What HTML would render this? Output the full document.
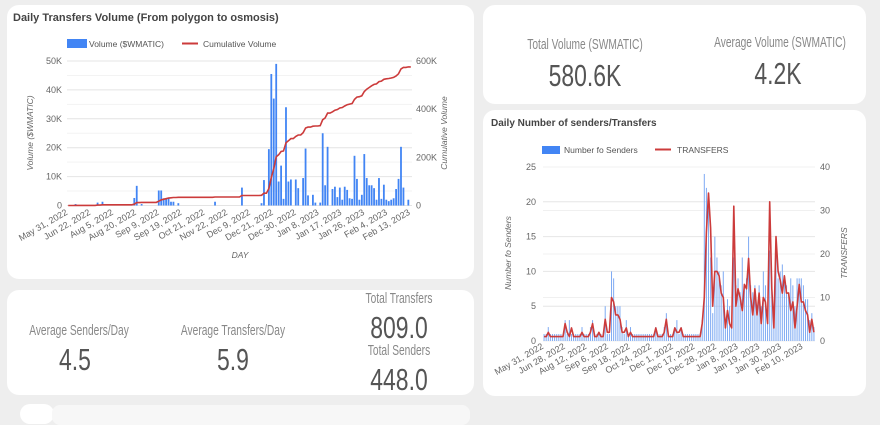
<!DOCTYPE html>
<html><head><meta charset="utf-8">
<style>
body{margin:0;width:880px;height:411px;background:#eeeeee;overflow:hidden;position:relative;font-family:"Liberation Sans",sans-serif}
.card{position:absolute;background:#fff;border-radius:12px}
.k{position:absolute;font-family:"Liberation Sans",sans-serif;text-align:center;white-space:nowrap;transform:translateX(-50%) scaleX(0.68);transform-origin:50% 50%}
.kl{font-size:15px;color:#888}
.kv{font-size:31px;color:#555;transform:translateX(-50%) scaleX(0.74)}
svg{position:absolute;left:0;top:0}
</style></head><body>
<div class="card" style="left:7px;top:5px;width:467px;height:274px"></div>
<div class="card" style="left:7px;top:290px;width:467px;height:105px"></div>
<div class="card" style="left:483px;top:5px;width:383px;height:99px"></div>
<div class="card" style="left:483px;top:110px;width:383px;height:286px"></div>
<div class="card" style="left:20px;top:404px;width:34px;height:20px;border-radius:10px"></div>
<div class="card" style="left:52px;top:405px;width:418px;height:20px;border-radius:8px;background:#f7f7f7"></div>

<div class="k kl" style="left:79px;top:322px">Average Senders/Day</div>
<div class="k kv" style="left:75px;top:342px">4.5</div>
<div class="k kl" style="left:233px;top:322px">Average Transfers/Day</div>
<div class="k kv" style="left:233px;top:342px">5.9</div>
<div class="k kl" style="left:399px;top:290px">Total Transfers</div>
<div class="k kv" style="left:399px;top:310px">809.0</div>
<div class="k kl" style="left:399px;top:342px">Total Senders</div>
<div class="k kv" style="left:399px;top:362px">448.0</div>
<div class="k kl" style="left:585px;top:36px">Total Volume (SWMATIC)</div>
<div class="k kv" style="left:585px;top:58px">580.6K</div>
<div class="k kl" style="left:780px;top:34px">Average Volume (SWMATIC)</div>
<div class="k kv" style="left:778px;top:56px">4.2K</div>

<svg id="s" width="880" height="411"></svg>
<script>
// Chart 1 data
const barDays=[3,12,14,27,28,30,37,38,39,40,41,42,43,45,60,71,79,80,82,83,84,85,86,87,88,89,90,91,93,94,96,97,98,100,101,103,104,105,106,108,109,110,111,112,113,114,115,116,117,118,119,120,121,122,123,124,125,126,127,128,129,130,131,132,133,134,135,136,137,139];
const volumes=[0.5,1,1.3,2.6,6.8,0.5,5.2,5.2,2.5,2.5,2.5,1.3,1.3,0.8,1.3,6.2,0.8,8.8,19.5,45.5,37,49,8.3,13.8,2.3,34,8.3,9,9,6,9.5,19.7,3.5,3.7,1,1,25,7,20.3,5.7,6.5,2.9,6.2,2,6.5,5.4,2.5,2.3,17.2,9.2,2,3.7,17.8,9.5,7,7,6,2,9.5,2.3,7.2,2,1.5,2,2.5,5.7,9.2,20.3,6.2,2];
const dayCount=141;
const xLabels1=["May 31, 2022","Jun 22, 2022","Aug 5, 2022","Aug 20, 2022","Sep 9, 2022","Sep 19, 2022","Oct 21, 2022","Nov 22, 2022","Dec 9, 2022","Dec 21, 2022","Dec 30, 2022","Jan 8, 2023","Jan 17, 2023","Jan 26, 2023","Feb 4, 2023","Feb 13, 2023"];
const yTicks1=[0,10,20,30,40,50];
const yTicks1R=[0,200,400,600];
// Chart 2 data
const transfers=[1,1,2,1,1,1,1,1,1,1,4,2,1,3,1,1,1,1,2,1,1,1,2,4,1,1,2,1,1,5,2,2,10,9,6,6,5,2,2,3,1,2,1,1,1,1,1,1,1,1,1,1,1,3,1,1,1,2,5,1,1,1,3,2,2,3,1,1,1,1,1,1,1,1,1,4,10,25,34,26,8,16,16,15,11,10,3,7,4,3,31,8,12,10,7,13,12,19,10,6,12,6,11,4,10,9,4,32,12,3,24,16,14,11,15,11,11,7,9,3,8,13,9,9,7,6,2,5,2];
const senders=[1,1,2,1,1,1,1,1,1,1,3,1,3,1,1,1,1,1,2,1,1,1,2,3,1,1,1,1,1,5,1,1,10,9,5,5,5,2,1,3,1,2,1,1,1,1,1,1,1,1,1,1,1,2,1,1,1,2,4,1,1,1,2,3,1,2,1,1,1,1,1,1,1,1,1,3,24,22,20,12,4,15,12,10,8,10,2,6,5,3,12,8,9,7,12,8,9,15,8,7,8,5,8,5,10,8,4,13,7,5,14,9,10,11,9,8,7,9,8,5,9,9,9,8,6,6,3,4,2];
const xLabels2=["May 31, 2022","Jun 28, 2022","Aug 12, 2022","Sep 6, 2022","Sep 18, 2022","Oct 24, 2022","Dec 1, 2022","Dec 17, 2022","Dec 28, 2022","Jan 8, 2023","Jan 19, 2023","Jan 30, 2023","Feb 10, 2023"];
const yTicks2=[0,5,10,15,20,25];
const yTicks2R=[0,10,20,30,40];

const S=document.getElementById('s');const NS='http://www.w3.org/2000/svg';
function mk(t,a,txt){const e=document.createElementNS(NS,t);for(const k in a)e.setAttribute(k,a[k]);if(txt!==undefined)e.textContent=txt;S.appendChild(e);return e;}

// ---------- chart 1
const L1=67,R1=412,T1=61,B1=205.5;
const x1=d=>L1+(d+0.5)*(R1-L1)/dayCount;
const y1=v=>B1-v/50*(B1-T1);
const y1r=v=>B1-v/600*(B1-T1);
let e;
e=mk('text',{x:13,y:21,'font-size':11,'font-weight':'bold',fill:'#444'},'Daily Transfers Volume (From polygon to osmosis)');


for(let v=0;v<=50;v+=5){e=mk('line',{x1:L1,x2:R1,y1:y1(v),y2:y1(v),stroke:v%10?'#f3f3f3':'#e4e4e4','stroke-width':1});

}
yTicks1.forEach(v=>{e=mk('text',{x:62,y:y1(v)+3,'font-size':9,fill:'#666','text-anchor':'end'},v?v+'K':'0');

});
yTicks1R.forEach(v=>{e=mk('text',{x:416,y:y1r(v)+3,'font-size':9,fill:'#666'},v?v+'K':'0');

});
barDays.forEach((d,i)=>{const bw=1.8;e=mk('rect',{x:x1(d)-bw/2,y:y1(volumes[i]),width:bw,height:B1-y1(volumes[i]),fill:'#4285f4'});

});
const daily=new Array(dayCount).fill(0);barDays.forEach((d,i)=>daily[d]+=volumes[i]);
let c=0,pts=[];daily.forEach((v,d)=>{c+=v;pts.push(x1(d).toFixed(1)+','+y1r(c).toFixed(1));});
e=mk('polyline',{points:pts.join(' '),fill:'none',stroke:'#cc3b3b','stroke-width':1.6});


xLabels1.forEach((t,i)=>{const d=i*(dayCount-1)/(xLabels1.length-1);const xx=x1(d);
e=mk('text',{x:xx,y:214,'font-size':9,fill:'#666','text-anchor':'end',transform:`rotate(-30 ${xx} 214)`},t);

});
e=mk('text',{x:240,y:258,'font-size':8.5,fill:'#666','font-style':'italic','text-anchor':'middle'},'DAY');


e=mk('text',{x:33,y:133,'font-size':8.5,fill:'#666','font-style':'italic','text-anchor':'middle',transform:'rotate(-90 33 133)'},'Volume ($WMATIC)');


e=mk('text',{x:447,y:133,'font-size':8.5,fill:'#666','font-style':'italic','text-anchor':'middle',transform:'rotate(-90 447 133)'},'Cumulative Volume');


e=mk('rect',{x:67,y:39,width:20,height:9,fill:'#4285f4'});


e=mk('text',{x:89,y:47,'font-size':8.5,fill:'#555'},'Volume ($WMATIC)');


e=mk('line',{x1:182,x2:198,y1:43.5,y2:43.5,stroke:'#cc3b3b','stroke-width':2});


e=mk('text',{x:203,y:47,'font-size':8.5,fill:'#555'},'Cumulative Volume');



// ---------- chart 2
const L2=543,R2=815,T2=167,B2=341,N2=transfers.length;
const x2=i=>L2+(i+0.5)*(R2-L2)/N2;
const y2=v=>B2-v/25*(B2-T2);
const y2r=v=>B2-v/40*(B2-T2);
e=mk('text',{x:491,y:126,'font-size':10,'font-weight':'bold',fill:'#444'},'Daily Number of senders/Transfers');


yTicks2.forEach(v=>{e=mk('line',{x1:L2,x2:R2,y1:y2(v),y2:y2(v),stroke:'#e6e6e6','stroke-width':1});


e=mk('text',{x:536,y:y2(v)+3,'font-size':9,fill:'#666','text-anchor':'end'},String(v));

});
yTicks2R.forEach(v=>{e=mk('line',{x1:L2,x2:R2,y1:y2r(v),y2:y2r(v),stroke:'#f0f0f0','stroke-width':1});


e=mk('text',{x:820,y:y2r(v)+3,'font-size':9,fill:'#666'},String(v));

});
senders.forEach((v,i)=>{e=mk('rect',{x:x2(i)-0.5,y:y2(v),width:1,height:B2-y2(v),fill:'#7eaaf3'});

});
e=mk('polyline',{points:transfers.map((v,i)=>x2(i).toFixed(1)+','+y2r(v).toFixed(1)).join(' '),fill:'none',stroke:'#cc3b3b','stroke-width':1.6,'stroke-linejoin':'round'});


xLabels2.forEach((t,i)=>{const xx=x2(i*10.25);
e=mk('text',{x:xx,y:348,'font-size':9,fill:'#666','text-anchor':'end',transform:`rotate(-30 ${xx} 348)`},t);

});
e=mk('text',{x:511,y:253,'font-size':8.5,fill:'#666','font-style':'italic','text-anchor':'middle',transform:'rotate(-90 511 253)'},'Number fo Senders');


e=mk('text',{x:847,y:253,'font-size':8.5,fill:'#666','font-style':'italic','text-anchor':'middle',transform:'rotate(-90 847 253)'},'TRANSFERS');


e=mk('rect',{x:542,y:146,width:18,height:8,fill:'#4285f4'});


e=mk('text',{x:564,y:153,'font-size':8.5,fill:'#555'},'Number fo Senders');


e=mk('line',{x1:655,x2:671,y1:149.5,y2:149.5,stroke:'#cc3b3b','stroke-width':2});


e=mk('text',{x:677,y:153,'font-size':8.5,fill:'#555'},'TRANSFERS');


</script>
</body></html>
